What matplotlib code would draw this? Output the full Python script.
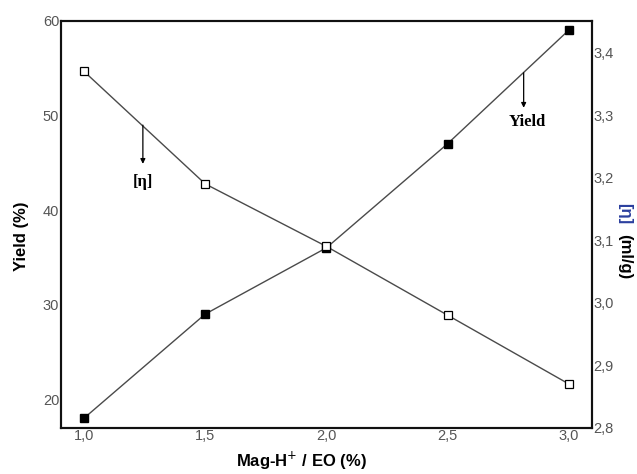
import matplotlib
matplotlib.use("Agg")
import matplotlib.pyplot as plt
from matplotlib.ticker import FuncFormatter

# catalyst loading vs. yield and intrinsic viscosity
ratio = [1.0, 1.5, 2.0, 2.5, 3.0]
yield_pct = [18.0, 29.0, 36.0, 47.0, 59.0]
eta = [3.37, 3.19, 3.09, 2.98, 2.87]

x_ticks = [1.0, 1.5, 2.0, 2.5, 3.0]
yield_ticks = [20, 30, 40, 50, 60]
eta_ticks = [2.8, 2.9, 3.0, 3.1, 3.2, 3.3, 3.4]

plt.rcParams["font.family"] = ["Liberation Sans", "DejaVu Sans"]

fig = plt.figure(figsize=(6.37, 4.74), dpi=100)
ax = fig.add_axes([0.0953, 0.0977, 0.8337, 0.8586])
ax2 = ax.twinx()

line_c = "#4a4a4a"
ax.plot(ratio, yield_pct, "-", color=line_c, lw=1.0, marker="s", ms=5.5,
        mfc="black", mec="black", zorder=3)
ax2.plot(ratio, eta, "-", color=line_c, lw=1.0, marker="s", ms=5.5,
         mfc="white", mec="black", mew=0.9, zorder=3)

ax.set_xlim(0.904, 3.095)
ax.set_ylim(17.0, 60.0)
ax2.set_ylim(2.8, 3.451)

comma1 = FuncFormatter(lambda v, p: f"{v:.1f}".replace(".", ","))
ax.set_xticks(x_ticks)
ax.xaxis.set_major_formatter(comma1)
ax.set_yticks(yield_ticks)
ax2.set_yticks(eta_ticks)
ax2.yaxis.set_major_formatter(comma1)

tick_c = "#555555"
ax.tick_params(axis="both", length=0, pad=1, labelsize=10.5, labelcolor=tick_c)
ax2.tick_params(axis="y", length=0, pad=1, labelsize=10.5, labelcolor=tick_c)

for a in (ax, ax2):
    for s in a.spines.values():
        s.set_linewidth(1.5)
        s.set_color("#111111")

ax.set_xlabel("Mag-H$^{+}$ / EO (%)", fontsize=12, fontweight="bold")
ax.xaxis.set_label_coords(0.453, -0.055)
ax.set_ylabel("Yield (%)", fontsize=12, fontweight="bold")
ax.yaxis.set_label_coords(-0.06, 0.47)

# right axis label, bracket term set apart in blue
fig.text(0.981, 0.549, "[η]", rotation=-90, ha="center", va="center",
         fontsize=12, fontweight="bold", color="#2b3f9e")
fig.text(0.981, 0.459, "(ml/g)", rotation=-90, ha="center", va="center",
         fontsize=12, fontweight="bold", color="black")

# curve labels with pointer arrows
serif = ["Liberation Serif", "DejaVu Serif"]
ax2.annotate("", xy=(1.243, 3.222), xytext=(1.243, 3.284),
             arrowprops=dict(arrowstyle="-|>", color="black", lw=0.9,
                             mutation_scale=7, shrinkA=0, shrinkB=0))
ax2.text(1.243, 3.193, "[η]", ha="center", va="center", fontsize=12,
         fontweight="bold", family=serif)
ax.annotate("", xy=(2.814, 50.8), xytext=(2.814, 54.5),
            arrowprops=dict(arrowstyle="-|>", color="black", lw=0.9,
                            mutation_scale=7, shrinkA=0, shrinkB=0))
ax.text(2.83, 49.3, "Yield", ha="center", va="center", fontsize=12,
        fontweight="bold", family=serif)

fig.savefig("out.png", dpi=100)
